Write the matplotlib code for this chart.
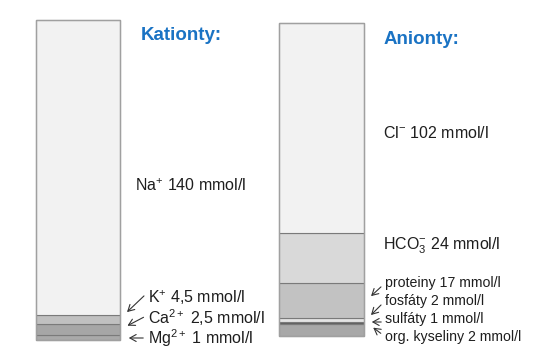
import matplotlib
matplotlib.use("Agg")
import matplotlib.pyplot as plt

plt.rcParams['font.family'] = ['Liberation Sans', 'DejaVu Sans']
plt.rcParams['mathtext.fontset'] = 'custom'
plt.rcParams['mathtext.rm'] = 'Liberation Sans'
plt.rcParams['mathtext.it'] = 'Liberation Sans'
plt.rcParams['mathtext.default'] = 'regular'

# Cations (bottom -> top)
cation_names = ["Mg", "Ca", "K", "Na"]
cation_labels = [r"Mg$^{2+}$ 1 mmol/l", r"Ca$^{2+}$ 2,5 mmol/l", r"K$^{+}$ 4,5 mmol/l", r"Na$^{+}$ 140 mmol/l"]
cation_segment_heights = [5, 11, 9, 295]
cation_colors = ["#a9a9a9", "#a6a6a6", "#c0c0c0", "#f2f2f2"]

# Anions (bottom -> top)
anion_names = ["org", "sulf", "fosf", "prot", "HCO3", "Cl"]
anion_labels = ["org. kyseliny 2 mmol/l", "sulfáty 1 mmol/l", "fosfáty 2 mmol/l",
                "proteiny 17 mmol/l", r"HCO$_3^{-}$ 24 mmol/l", r"Cl$^{-}$ 102 mmol/l"]
anion_segment_heights = [12, 2, 3.5, 35, 50, 210]
anion_colors = ["#a8a8a8", "#606060", "#e4e4e4", "#c2c2c2", "#d9d9d9", "#f2f2f2"]

W, H = 540, 357
fig = plt.figure(figsize=(W / 100, H / 100), dpi=100)
ax = fig.add_axes([0, 0, 1, 1])
ax.set_xlim(0, W)
ax.set_ylim(0, H)
ax.axis('off')

def stack(x, width, base, heights, colors):
    b = base
    for h, c in zip(heights, colors):
        ax.bar(x, h, width=width, bottom=b, color=c, edgecolor="#7a7a7a", linewidth=0.8, align='center')
        b += h
    ax.bar(x, b - base, width=width, bottom=base, fill=False, edgecolor="#a0a0a0", linewidth=1.0)
    return b

stack(78, 84, H - 340, cation_segment_heights, cation_colors)
stack(321.5, 85, H - 335.5, anion_segment_heights, anion_colors)

blue = "#1a73c4"
fs = 11.5
txtc = "#1e1e1e"
arrow_kw = dict(arrowstyle="->,head_length=0.45,head_width=0.25", color="#333333", lw=0.8)
ax.text(141, H - 36, "Kationty:", color=blue, fontsize=13.5, fontweight='bold', va='center', ha='left')
ax.text(384, H - 40, "Anionty:", color=blue, fontsize=13.5, fontweight='bold', va='center', ha='left')

# big labels
ax.text(135, H - 186, cation_labels[3], fontsize=fs, va='center', ha='left', color=txtc)
ax.text(383, H - 133, anion_labels[5], fontsize=fs, va='center', ha='left', color=txtc)
ax.text(383, H - 246, anion_labels[4], fontsize=fs, va='center', ha='left', color=txtc)

# cation small labels with arrows
cat_text_y = [338, 318, 298]
cat_arrow = [((146, 338), (126, 338)), ((146, 316), (125, 327)), ((146, 294), (125, 314))]
for i, lbl in enumerate(cation_labels[:3]):
    ax.text(148, H - cat_text_y[i], lbl, fontsize=fs, va='center', ha='left', color=txtc)
    (x0, y0), (x1, y1) = cat_arrow[i]
    ax.annotate("", xy=(x1, H - y1), xytext=(x0, H - y0), arrowprops=arrow_kw)

# anion small labels with arrows
an_text_y = [337, 319, 301, 283]
an_arrow = [((383, 335), (371, 326)), ((384, 322), (369, 322)),
            ((383, 303), (369, 317)), ((383, 285), (369, 298))]
for i, lbl in enumerate(anion_labels[:4]):
    ax.text(385, H - an_text_y[i], lbl, fontsize=10.2, va='center', ha='left', color=txtc)
    (x0, y0), (x1, y1) = an_arrow[i]
    ax.annotate("", xy=(x1, H - y1), xytext=(x0, H - y0), arrowprops=arrow_kw)

fig.savefig("out.png", dpi=100)
